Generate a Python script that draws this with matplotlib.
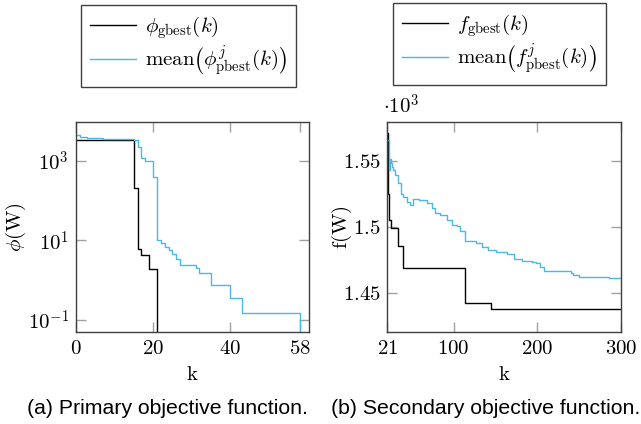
import matplotlib
matplotlib.use("Agg")
import matplotlib.pyplot as plt

plt.rcParams["mathtext.fontset"] = "cm"
plt.rcParams["font.family"] = ["DejaVu Serif"]

# (a) primary objective, breakpoints of the step curves (value holds until next k)
k_phi_gbest = [0, 15, 16, 17, 19, 21]
phi_gbest = [3300, 204, 6.1, 4.2, 1.9, 1e-6]

k_phi_pbest = [0, 1, 3, 7, 15, 16, 17, 18, 20, 21, 22, 23, 24, 25, 26, 27, 31, 32, 35, 40, 43, 58]
phi_pbest = [4370, 3800, 3600, 3400, 3250, 2240, 1150, 1000, 398, 10.4, 8.4, 6.8, 5.6, 4.5,
             3.4, 2.4, 2.0, 1.53, 0.75, 0.35, 0.153, 1e-6]

# (b) secondary objective
k_f_gbest = [21, 22, 23, 25, 34, 39, 114, 144, 300]
f_gbest = [1571, 1525, 1505, 1499, 1485.4, 1468.5, 1442.2, 1437.4, 1437.4]

k_f_pbest = [21, 23, 24, 25, 26, 28, 30, 34, 37, 40, 44, 48, 52, 59, 68, 74, 78, 84, 92, 98,
             104, 108, 114, 127, 134, 141, 150, 164, 172, 182, 193, 198, 203, 208, 240, 243,
             249, 259, 285, 300]
f_pbest = [1565.7, 1543, 1551, 1548, 1545, 1543, 1539, 1533, 1525, 1522.7, 1519, 1516.4,
           1521, 1520.2, 1517.7, 1514, 1510, 1508.9, 1505, 1501.3, 1500.5, 1497, 1489.4,
           1487.4, 1484.8, 1482.3, 1480.6, 1479.3, 1475.5, 1474, 1473, 1472.3, 1469.2,
           1466.7, 1464.7, 1463.4, 1462.1, 1461.6, 1461.1, 1461.1]

xticks_a = [0, 20, 40, 58]
yticks_a = [0.1, 10, 1000]
ytick_labels_a = ["$10^{-1}$", "$10^{1}$", "$10^{3}$"]
xticks_b = [21, 100, 200, 300]
yticks_b = [1.45, 1.5, 1.55]

blue = "#4cb8e6"
fs = 15

fig = plt.figure(figsize=(6.41, 4.24), dpi=100)
ax1 = fig.add_axes([0.118, 0.217, 0.364, 0.496])
ax2 = fig.add_axes([0.6045, 0.217, 0.3647, 0.496])

l1, = ax1.plot(k_phi_gbest, phi_gbest, drawstyle="steps-post", color="black", lw=1)
l2, = ax1.plot(k_phi_pbest, phi_pbest, drawstyle="steps-post", color=blue, lw=1)
ax1.set_yscale("log")
ax1.set_xlim(0, 60.3)
ax1.set_ylim(10 ** -1.3, 10 ** 3.975)
ax1.set_xticks(xticks_a, ["$%d$" % t for t in xticks_a])
ax1.set_yticks(yticks_a, ytick_labels_a)
ax1.minorticks_off()
ax1.set_xlabel(r"$\mathrm{k}$", fontsize=fs, labelpad=5)
ax1.set_ylabel(r"$\phi(\mathrm{W})$", fontsize=fs, labelpad=0)

m1, = ax2.plot(k_f_gbest, [v / 1000 for v in f_gbest], drawstyle="steps-post", color="black", lw=1)
m2, = ax2.plot(k_f_pbest, [v / 1000 for v in f_pbest], drawstyle="steps-post", color=blue, lw=1)
ax2.set_xlim(21, 300)
ax2.set_ylim(1.4202, 1.5795)
ax2.set_xticks(xticks_b, ["$%d$" % t for t in xticks_b])
ax2.set_yticks(yticks_b, ["$%g$" % t for t in yticks_b])
ax2.set_xlabel(r"$\mathrm{k}$", fontsize=fs, labelpad=5)
ax2.set_ylabel(r"$\mathrm{f(W)}$", fontsize=fs, labelpad=-8)
ax2.text(-0.02, 1.02, r"$\cdot 10^{3}$", transform=ax2.transAxes, fontsize=fs,
         ha="left", va="bottom")

for ax in (ax1, ax2):
    ax.tick_params(direction="in", length=7, width=1, color="#a0a0a0", labelsize=fs,
                   top=True, right=True, pad=5)
    for s in ax.spines.values():
        s.set_color("#404040")
        s.set_linewidth(1)

leg_opts = dict(loc="upper left", fontsize=fs, frameon=True, fancybox=False,
                edgecolor="#404040", framealpha=1, handlelength=2.2, handletextpad=0.4,
                borderaxespad=0, labelspacing=0.1, borderpad=0.45)
fig.legend([l1, l2], [r"$\phi_{\mathrm{gbest}}(k)$",
                      r"$\mathrm{mean}\left(\phi^{j}_{\mathrm{pbest}}(k)\right)$"],
           bbox_to_anchor=(81 / 641, 1 - 5 / 424), **leg_opts)
fig.legend([m1, m2], [r"$f_{\mathrm{gbest}}(k)$",
                      r"$\mathrm{mean}\left(f^{j}_{\mathrm{pbest}}(k)\right)$"],
           bbox_to_anchor=(393 / 641, 1 - 3 / 424), **leg_opts)

fig.text(0.2605, 1 - 408 / 424, "(a) Primary objective function.", fontsize=15.3,
         family="Liberation Sans", ha="center", va="center")
fig.text(0.758, 1 - 408 / 424, "(b) Secondary objective function.", fontsize=15.3,
         family="Liberation Sans", ha="center", va="center")

fig.savefig("out.png", dpi=100)
